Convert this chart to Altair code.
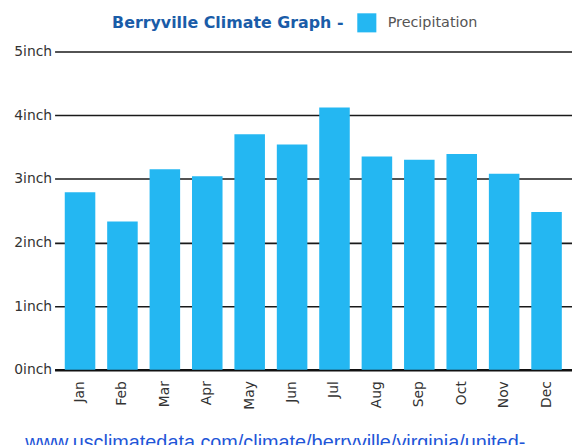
import altair as alt
import pandas as pd

months = ["Jan", "Feb", "Mar", "Apr", "May", "Jun", "Jul", "Aug", "Sep", "Oct", "Nov", "Dec"]
precip = [2.79, 2.33, 3.15, 3.04, 3.70, 3.54, 4.12, 3.35, 3.30, 3.39, 3.08, 2.48]
series = ["Precipitation"] * len(months)
y_ticks = [0, 1, 2, 3, 4, 5]

df = pd.DataFrame({"month": months, "precip": precip, "series": series})

FONT = "DejaVu Sans"

chart = alt.Chart(df).mark_bar(color="#24b7f2").encode(
    x=alt.X(
        "month:N",
        sort=months,
        scale=alt.Scale(paddingInner=0.28, paddingOuter=0.24),
        axis=alt.Axis(
            title="www.usclimatedata.com/climate/berryville/virginia/united-",
            titleFont="Liberation Sans",
            titleFontSize=20,
            titleFontWeight="normal",
            titleColor="#1f56d8",
            titleAnchor="start",
            titleAlign="left",
            titleBaseline="alphabetic",
            titleX=-30,
            titleY=79,
            labelAngle=270,
            labelAlign="right",
            labelBaseline="middle",
            labelPadding=11,
            labelFont=FONT,
            labelFontSize=14,
            labelColor="#333333",
            ticks=False,
            domain=True,
            domainColor="#111111",
            domainWidth=2.5,
            grid=False,
        ),
    ),
    y=alt.Y(
        "precip:Q",
        scale=alt.Scale(domain=[0, 5], nice=False),
        axis=alt.Axis(
            title=None,
            values=y_ticks,
            labelExpr="datum.value + 'inch'",
            labelFont=FONT,
            labelFontSize=14,
            labelColor="#333333",
            labelPadding=3,
            ticks=False,
            domain=False,
            grid=True,
            gridColor="#1a1a1a",
            gridWidth=1.6,
        ),
    ),
    fill=alt.Fill(
        "series:N",
        scale=alt.Scale(domain=["Precipitation"], range=["#24b7f2"]),
        legend=alt.Legend(
            title="Berryville Climate Graph -",
            titleOrient="left",
            titleFont=FONT,
            titleFontSize=16,
            titleFontWeight="bold",
            titleColor="#1a5ca8",
            titleBaseline="middle",
            titleLimit=400,
            titlePadding=13,
            orient="none",
            legendX=58,
            legendY=-39,
            padding=0,
            symbolType="square",
            symbolSize=370,
            symbolStrokeWidth=0,
            symbolOpacity=1,
            labelFont=FONT,
            labelFontSize=14.5,
            labelColor="#555555",
            labelOffset=11,
        ),
    ),
).properties(
    width=522,
    height=321,
    autosize=alt.AutoSizeParams(type="none"),
    padding={"left": 47, "top": 42, "right": 0, "bottom": 82},
).configure_view(stroke=None)

chart.save("out.html", embed_options={"renderer": "svg", "actions": False})
